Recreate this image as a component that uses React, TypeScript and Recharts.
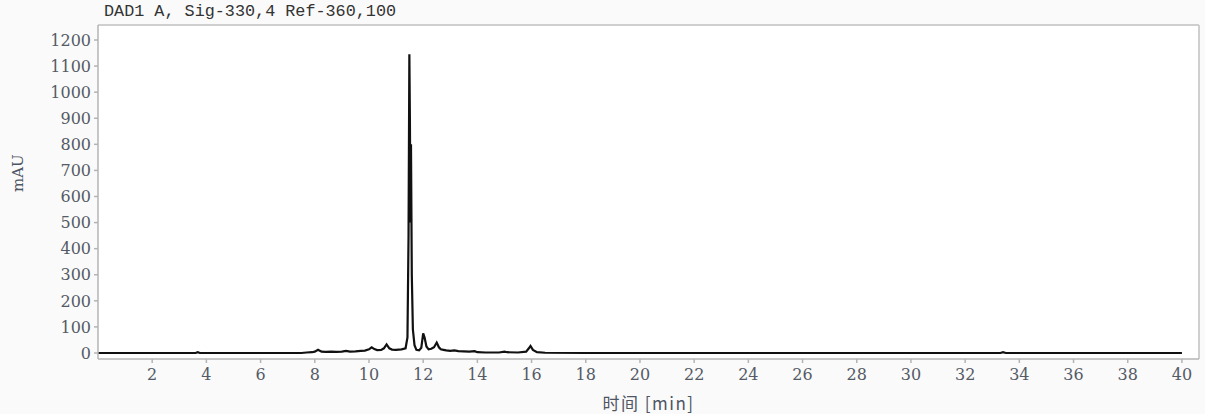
import { LineChart, Line, XAxis, YAxis, CartesianGrid, ReferenceLine } from "recharts"

// retention time (min) and absorbance (mAU)
const times = [
  0, 3.6, 3.68, 3.76, 7.5, 7.7, 7.9, 8.0, 8.12, 8.25, 8.4, 8.6, 8.8, 9.0, 9.15, 9.3, 9.5, 9.7, 9.85,
  10.0, 10.1, 10.2, 10.3, 10.45, 10.55, 10.65, 10.75, 10.85, 11.0, 11.2, 11.35, 11.42, 11.46, 11.49,
  11.51, 11.53, 11.55, 11.58, 11.62, 11.68, 11.75, 11.85, 11.93, 12.0, 12.05, 12.12, 12.2, 12.3, 12.4,
  12.5, 12.58, 12.65, 12.75, 12.85, 13.0, 13.15, 13.3, 13.5, 13.7, 13.9, 14.0, 14.3, 14.8, 15.0, 15.1,
  15.5, 15.8, 15.9, 15.96, 16.05, 16.2, 16.5, 18, 33.3, 33.4, 33.5, 40,
]
const signal = [
  0, 0, 3, 0, 0, 2, 3, 5, 12, 5, 4, 5, 4, 5, 8, 5, 6, 8, 9,
  14, 22, 15, 11, 12, 18, 33, 18, 13, 12, 14, 18, 60, 450, 1145,
  900, 500, 800, 300, 90, 30, 12, 10, 20, 75, 60, 25, 14, 16, 22,
  40, 22, 14, 12, 10, 8, 10, 7, 6, 5, 7, 3, 2, 2, 5, 3,
  2, 5, 18, 27, 12, 3, 1, 0, 0, 3, 0, 0,
]

const xTicks = [2, 4, 6, 8, 10, 12, 14, 16, 18, 20, 22, 24, 26, 28, 30, 32, 34, 36, 38, 40]
const yTicks = [0, 100, 200, 300, 400, 500, 600, 700, 800, 900, 1000, 1100, 1200]

const X_MAX = 40.63
const Y_MIN = -23
const Y_MAX = 1257.5

const data = times.map((t, i) => ({ t, v: signal[i] }))

const tickStyle = { fill: "#555b66", fontSize: 16, fontFamily: "DejaVu Serif" }
const axisColor = "#b4b4b4"

export default function App() {
  return (
    <div style={{ position: "absolute", left: 0, top: 0, width: 1205, height: 414, background: "#fafafa" }}>
      <div
        style={{
          position: "absolute",
          left: 104,
          top: 2,
          fontFamily: "Liberation Mono",
          fontSize: 16.8,
          color: "#333",
          whiteSpace: "pre",
        }}
      >
        DAD1 A, Sig-330,4 Ref-360,100
      </div>
      <LineChart width={1205} height={414} data={data} margin={{ top: 25, right: 6, left: 0, bottom: 0 }}>
        <CartesianGrid horizontal={false} vertical={false} fill="#ffffff" />
        <XAxis
          dataKey="t"
          type="number"
          domain={[0, X_MAX]}
          ticks={xTicks}
          height={55}
          allowDataOverflow
          tick={tickStyle}
          tickSize={4}
          tickMargin={6}
          stroke={axisColor}
          strokeWidth={1.5}
          label={{
            value: "时间 [min]",
            position: "insideBottom",
            offset: 4,
            fill: "#4e5563",
            fontSize: 17,
            letterSpacing: 1.5,
            fontFamily: "Noto Sans CJK SC",
          }}
        />
        <YAxis
          type="number"
          domain={[Y_MIN, Y_MAX]}
          ticks={yTicks}
          width={98}
          allowDataOverflow
          tick={tickStyle}
          tickSize={4}
          tickMargin={3}
          stroke={axisColor}
          strokeWidth={1.5}
          label={{
            value: "mAU",
            angle: -90,
            position: "insideLeft",
            offset: 18,
            fill: "#4e5563",
            fontSize: 15,
            fontFamily: "DejaVu Serif",
          }}
        />
        <ReferenceLine y={Y_MAX} stroke="#cfcfcf" strokeWidth={2} />
        <ReferenceLine x={X_MAX} stroke="#cfcfcf" strokeWidth={2} />
        <Line
          type="linear"
          dataKey="v"
          stroke="#111"
          strokeWidth={2.2}
          dot={false}
          isAnimationActive={false}
        />
      </LineChart>
    </div>
  )
}
